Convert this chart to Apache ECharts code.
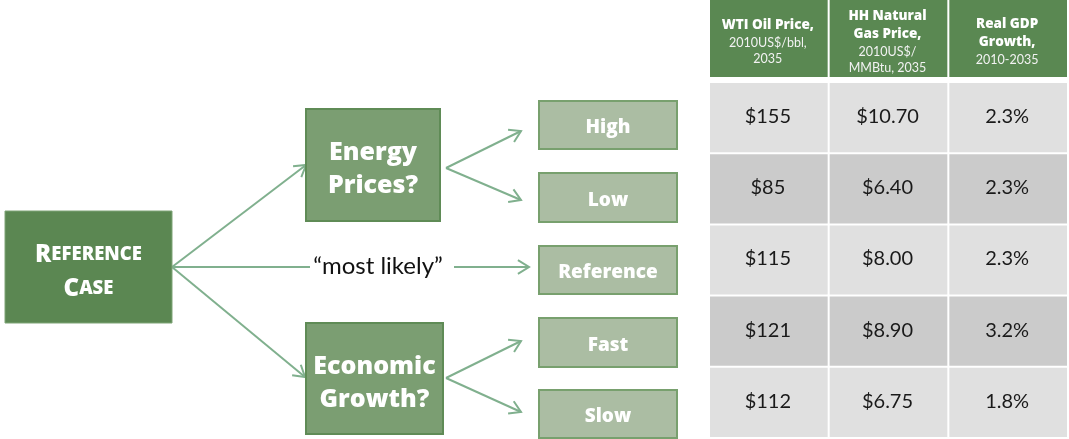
<!DOCTYPE html>
<html>
<head>
<meta charset="utf-8">
<script src="https://cdn.jsdelivr.net/npm/echarts@6/dist/echarts.min.js"></script>
<style>
  html, body { margin: 0; padding: 0; background: #fff; }
  #chart { width: 1069px; height: 439px; }
</style>
</head>
<body>
<div id="chart"></div>
<script>
// scenario tree labels
const nodeLabels = ['Reference\nCase', 'Energy\nPrices?', 'Economic\nGrowth?', 'High', 'Low', 'Reference', 'Fast', 'Slow']
const nodeLevels = [0, 1, 1, 2, 2, 2, 2, 2]
const linkLabel = '\u201Cmost likely\u201D'

// table
const headerTitles = ['WTI Oil Price,', 'HH Natural\nGas Price,', 'Real GDP\nGrowth,']
const headerUnits = ['2010US$/bbl,\n2035', '2010US$/\nMMBtu, 2035', '2010-2035']
const scenarios = ['High', 'Low', 'Reference', 'Fast', 'Slow']
const oilPrice = [155, 85, 115, 121, 112]
const gasPrice = [10.70, 6.40, 8.00, 8.90, 6.75]
const gdpGrowth = [2.3, 2.3, 2.3, 3.2, 1.8]

// layout (diagram units = pixels of the left panel)
const boxLayout = [
  [5, 211, 172, 323],
  [306, 109, 440, 221],
  [306, 323, 443, 434],
  [539, 101, 677, 149],
  [539, 173, 677, 222],
  [539, 246, 677, 294],
  [539, 318, 677, 367],
  [539, 390, 677, 438]
]
const arrowLayout = [
  [172, 267, 306, 165, 1],
  [172, 267, 305, 377, 1],
  [172, 267, 310, 267, 0],
  [454, 267, 529, 267, 1],
  [446, 168, 521, 131, 1],
  [446, 168, 521, 200, 1],
  [446, 378, 521, 341, 1],
  [446, 378, 521, 412, 1]
]
const linkLabelPos = [378, 266]
const textShift = [5, 4, 5, 3, 3, 3, 3, 3]

const FONT = 'Lato, "Open Sans", sans-serif'
const BOLD_FONT = '"Open Sans", Lato, sans-serif'
const HEAVY = 800
const boxStyles = [
  { fill: '#5b8752', stroke: '#7ea476', lineWidth: 1 },
  { fill: '#7b9e72', stroke: '#5f8b56', lineWidth: 2 },
  { fill: '#abbda3', stroke: '#78a06e', lineWidth: 2 }
]
const arrowColor = '#80b08e'

const smallCaps = (label) => label.split('\n').map(w => {
  const up = w.toUpperCase()
  return '{big|' + up[0] + '}{small|' + up.slice(1) + '}'
}).join('\n')

const boxText = (i) => {
  const lvl = nodeLevels[i]
  if (lvl === 0) {
    return {
      text: smallCaps(nodeLabels[i]),
      rich: {
        big: { fontSize: 24, fontWeight: HEAVY, fontFamily: BOLD_FONT, fill: '#fff', lineHeight: 34 },
        small: { fontSize: 18.5, fontWeight: HEAVY, fontFamily: BOLD_FONT, fill: '#fff', lineHeight: 34 }
      }
    }
  }
  if (lvl === 1) {
    return { text: nodeLabels[i], fontSize: 25, fontWeight: HEAVY, fontFamily: BOLD_FONT, fill: '#fff', lineHeight: 33 }
  }
  return { text: nodeLabels[i], fontSize: 19, fontWeight: HEAVY, fontFamily: BOLD_FONT, fill: '#fff' }
}

const chart = echarts.init(document.getElementById('chart'))

const renderBox = (params, api) => {
  const i = api.value(0)
  const b = boxLayout[i]
  const p0 = api.coord([b[0], b[1]])
  const p1 = api.coord([b[2], b[3]])
  const st = boxStyles[nodeLevels[i]]
  return {
    type: 'rect',
    shape: { x: p0[0], y: p0[1], width: p1[0] - p0[0], height: p1[1] - p0[1] },
    style: { fill: st.fill, stroke: st.stroke, lineWidth: st.lineWidth },
    textContent: { style: Object.assign({ align: 'center', verticalAlign: 'middle' }, boxText(i)) },
    textConfig: { position: 'inside', offset: [0, textShift[i]] }
  }
}

const renderArrow = (params, api) => {
  const a = arrowLayout[api.value(0)]
  const s = api.coord([a[0], a[1]])
  const e = api.coord([a[2], a[3]])
  const children = [{
    type: 'line',
    shape: { x1: s[0], y1: s[1], x2: e[0], y2: e[1] },
    style: { stroke: arrowColor, lineWidth: 2 }
  }]
  if (a[4]) {
    const ang = Math.atan2(e[1] - s[1], e[0] - s[0])
    const L = 13, phi = 0.55
    children.push({
      type: 'polyline',
      shape: { points: [
        [e[0] - L * Math.cos(ang - phi), e[1] - L * Math.sin(ang - phi)],
        [e[0], e[1]],
        [e[0] - L * Math.cos(ang + phi), e[1] - L * Math.sin(ang + phi)]
      ] },
      style: { stroke: arrowColor, lineWidth: 2, fill: null }
    })
  }
  if (api.value(0) === 2) {
    const t = api.coord(linkLabelPos)
    children.push({
      type: 'text',
      style: { text: linkLabel, x: t[0], y: t[1], align: 'center', verticalAlign: 'middle',
        fontSize: 24, fontFamily: FONT, fill: '#111' }
    })
  }
  return { type: 'group', children }
}

const renderHeader = (params, api) => {
  const c = api.value(0)
  const pt = api.coord([c, 0])
  const sz = api.size([1, 1])
  const lines = headerTitles[c].split('\n').map(l => '{b|' + l + '}')
    .concat(headerUnits[c].split('\n').map(l => '{s|' + l + '}'))
  return {
    type: 'rect',
    shape: { x: pt[0] - sz[0] / 2, y: pt[1] - sz[1] / 2, width: sz[0] - 2, height: sz[1] },
    style: { fill: '#5a8852' },
    textContent: {
      style: {
        text: lines.join('\n'), align: 'center', verticalAlign: 'middle',
        rich: {
          b: { fontSize: 13.5, fontWeight: HEAVY, fontFamily: BOLD_FONT, fill: '#fff', lineHeight: 18 },
          s: { fontSize: 12.5, fontFamily: FONT, fill: '#f2f2f2', lineHeight: 16 }
        }
      }
    },
    textConfig: { position: 'inside', offset: [-1, 3] }
  }
}

const cellText = (c, r) => {
  if (c === 0) return '$' + oilPrice[r]
  if (c === 1) return '$' + gasPrice[r].toFixed(2)
  return gdpGrowth[r].toFixed(1) + '%'
}

const renderCell = (params, api) => {
  const c = api.value(0)
  const r = api.value(1)
  const pt = api.coord([c, r])
  const sz = api.size([1, 1])
  return {
    type: 'rect',
    shape: { x: pt[0] - sz[0] / 2, y: pt[1] - sz[1] / 2, width: sz[0] - 2, height: sz[1] - 2 },
    style: { fill: r % 2 === 0 ? '#e0e0e0' : '#cbcbcb' },
    textContent: {
      style: { text: cellText(c, r), fontSize: 20, fontFamily: FONT, fill: '#1a1a1a',
        align: 'center', verticalAlign: 'middle' }
    },
    textConfig: { position: 'inside', offset: [-1, -1] }
  }
}

const cells = []
scenarios.forEach((s, r) => {
  for (let c = 0; c < 3; c++) cells.push([c, r])
})

const option = {
  animation: false,
  grid: [
    { left: 0, top: 0, width: 1069, height: 439 },
    { left: 710, top: 0, width: 361, height: 77 },
    { left: 710, top: 83, width: 361, height: 358 }
  ],
  xAxis: [
    { type: 'value', gridIndex: 0, min: 0, max: 1069, show: false },
    { type: 'category', gridIndex: 1, data: headerTitles, show: false },
    { type: 'category', gridIndex: 2, data: headerTitles, show: false }
  ],
  yAxis: [
    { type: 'value', gridIndex: 0, min: 0, max: 439, inverse: true, show: false },
    { type: 'category', gridIndex: 1, data: ['header'], show: false },
    { type: 'category', gridIndex: 2, data: scenarios, inverse: true, show: false }
  ],
  series: [
    {
      type: 'custom', xAxisIndex: 0, yAxisIndex: 0,
      renderItem: renderArrow,
      data: arrowLayout.map((a, i) => [i, 0]),
      silent: true
    },
    {
      type: 'custom', xAxisIndex: 0, yAxisIndex: 0,
      renderItem: renderBox,
      data: nodeLabels.map((n, i) => [i, 0]),
      silent: true
    },
    {
      type: 'custom', xAxisIndex: 1, yAxisIndex: 1,
      renderItem: renderHeader,
      data: headerTitles.map((h, i) => [i, 0]),
      silent: true
    },
    {
      type: 'custom', xAxisIndex: 2, yAxisIndex: 2,
      renderItem: renderCell,
      data: cells,
      silent: true
    }
  ]
}

chart.setOption(option)
</script>
</body>
</html>
